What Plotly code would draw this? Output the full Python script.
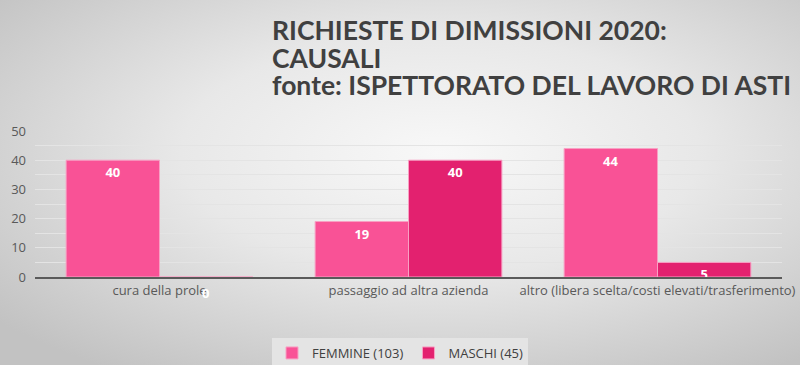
import plotly.graph_objects as go
import base64

categories = ["cura della prole", "passaggio ad altra azienda",
              "altro (libera scelta/costi elevati/trasferimento)"]
femmine = [40, 19, 44]
maschi = [0, 40, 5]
series_names = ["FEMMINE (103)", "MASCHI (45)"]
title_lines = ["RICHIESTE DI DIMISSIONI 2020:", "CAUSALI",
               "fonte: ISPETTORATO DEL LAVORO DI ASTI"]

W, H = 800, 365
ML, MR, MT, MB = 35, 18, 131, 88
PW, PH = W - ML - MR, H - MT - MB

svg = ('<svg xmlns="http://www.w3.org/2000/svg" width="800" height="365" preserveAspectRatio="none">'
       '<defs><radialGradient id="g" cx="0.55" cy="0.42" r="0.72" gradientUnits="objectBoundingBox">'
       '<stop offset="0" stop-color="#f8f8f8"/><stop offset="0.45" stop-color="#e8e8e8"/>'
       '<stop offset="1" stop-color="#c2c2c2"/></radialGradient></defs>'
       '<rect width="800" height="365" fill="url(#g)"/></svg>')
svg_uri = "data:image/svg+xml;base64," + base64.b64encode(svg.encode()).decode()

fcol = "#F95296"
mcol = "#E3216F"
lab_font = dict(color="white", size=13, family="Open Sans")

fig = go.Figure()
fig.add_bar(name=series_names[0], x=categories, y=femmine, marker_color=fcol,
            marker_line=dict(color="#f8a0c4", width=1),
            text=[str(v) for v in femmine], textposition="inside", insidetextanchor="end",
            textangle=0, constraintext="none",
            textfont=lab_font, texttemplate="<b>%{text}</b>")
fig.add_bar(name=series_names[1], x=categories, y=maschi, marker_color=mcol,
            marker_line=dict(color="#f8a0c4", width=1),
            text=[("" if v == 0 else str(v)) for v in maschi], textposition="inside",
            insidetextanchor="end", constraintext="none", textangle=0,
            textfont=lab_font, texttemplate="<b>%{text}</b>")

annotations = []
# zero-value label for MASCHI
for c, v in zip(categories, maschi):
    if v == 0:
        annotations.append(dict(x=c, y=v, xshift=46, yshift=-5, yanchor="top", showarrow=False,
                                text="<b>0</b>", font=lab_font))

# title lines
for i, line in enumerate(title_lines):
    annotations.append(dict(
        text="<b>" + line + "</b>", xref="paper", yref="paper",
        x=(270 - ML) / PW, y=1 + (MT - 30 - 27.5 * i) / PH, xanchor="left", yanchor="middle",
        align="left", showarrow=False,
        font=dict(family="Lato", size=26.5, color="#404040")))

fig.update_layout(
    width=W, height=H,
    margin=dict(l=ML, r=MR, t=MT, b=MB, autoexpand=False),
    paper_bgcolor="rgba(0,0,0,0)", plot_bgcolor="rgba(0,0,0,0)",
    images=[dict(source=svg_uri, xref="paper", yref="paper", x=-ML / PW, y=1 + MT / PH,
                 sizex=W / PW, sizey=H / PH, xanchor="left", yanchor="top",
                 sizing="stretch", layer="below")],
    barmode="group", bargap=0.25, bargroupgap=0,
    font=dict(family="Open Sans", color="#595959", size=13),
    showlegend=True,
    legend=dict(orientation="h", x=(400 - ML) / PW, xanchor="center",
                y=-(338 - (H - MB)) / PH, yanchor="top",
                bgcolor="#e4e4e4", font=dict(size=13, color="#404040"),
                itemwidth=30, traceorder="normal"),
    annotations=annotations,
)
fig.update_yaxes(range=[0, 50], dtick=10, tickfont=dict(size=13, color="#595959"),
                 zeroline=False, ticks="", ticklabelstandoff=8, automargin=False,
                 showgrid=True, gridcolor="#e4e4e4", gridwidth=1,
                 minor=dict(dtick=5, showgrid=True, gridcolor="#e4e4e4", gridwidth=1))
fig.update_xaxes(showline=True, linecolor="#5a5a5a", linewidth=2, ticks="", automargin=False,
                 tickfont=dict(size=13, color="#595959"))

fig.write_html("out.html", config={"displayModeBar": False},
               post_script="document.body.style.margin='0';document.body.style.overflow='hidden';")
